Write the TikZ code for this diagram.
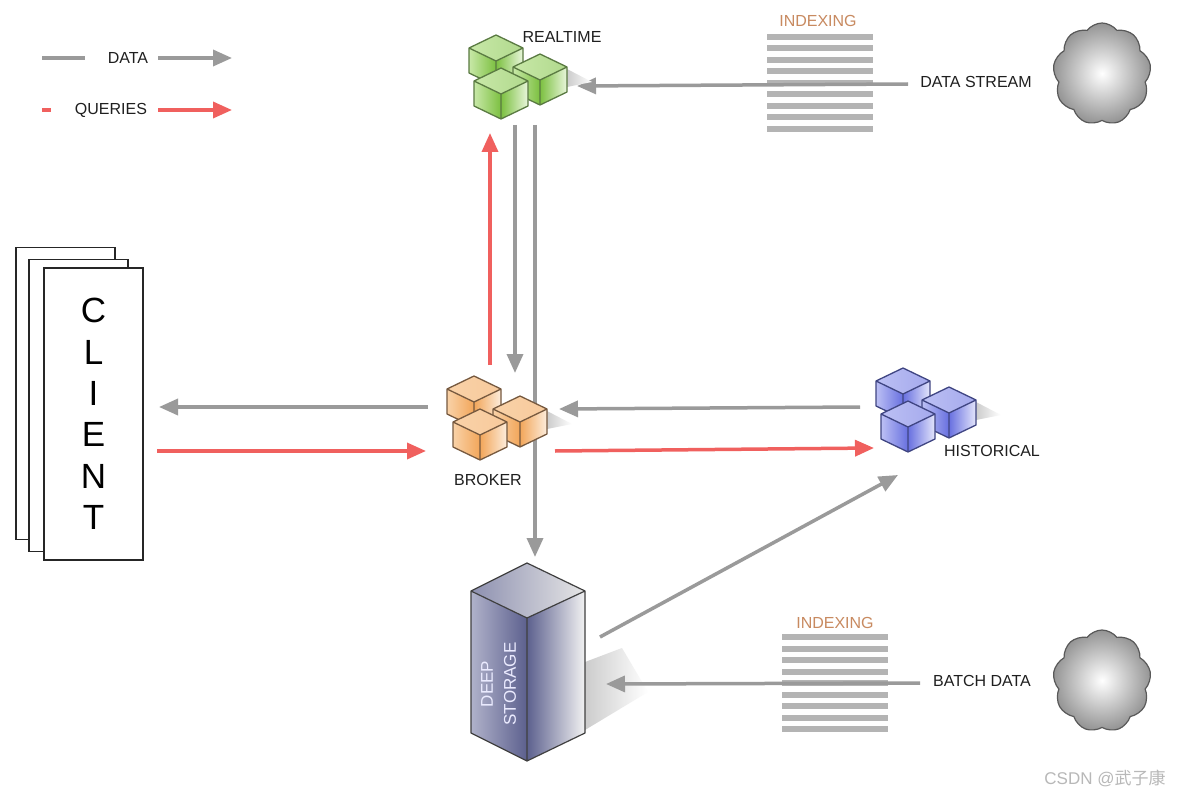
\documentclass[tikz,border=0pt]{standalone}
\usepackage{fontspec}
\setmainfont{Liberation Sans}
\newfontfamily\cjk{Noto Sans CJK SC}
\usetikzlibrary{arrows.meta,shapes.symbols}

\definecolor{arrgray}{HTML}{9A9A9A}
\definecolor{qred}{HTML}{F0605E}
\definecolor{stripe}{HTML}{B4B4B4}
\definecolor{idxcol}{HTML}{C88A60}
\definecolor{grlight}{HTML}{C8E8A8}\definecolor{grbase}{HTML}{7CC040}\definecolor{gredge}{HTML}{5A7A42}
\definecolor{orlight}{HTML}{F9D2A8}\definecolor{orbase}{HTML}{F2A65A}\definecolor{oredge}{HTML}{76593F}
\definecolor{bllight}{HTML}{BCC0F4}\definecolor{blbase}{HTML}{6870E0}\definecolor{bledge}{HTML}{3F4582}
\definecolor{dsdark}{HTML}{5C608E}\definecolor{dslight}{HTML}{B0B2CA}

\newcommand\cubeat[3]{%
  \shade[left color=#3light, right color=#3base!60!white] (#1-27,#2)--(#1,#2-13)--(#1+27,#2)--(#1,#2+13)--cycle;
  \shade[left color=#3light, right color=#3base] (#1-27,#2)--(#1,#2+13)--(#1,#2+38)--(#1-27,#2+25)--cycle;
  \shade[left color=#3base, right color=#3light!40!white] (#1,#2+13)--(#1+27,#2)--(#1+27,#2+25)--(#1,#2+38)--cycle;
  \draw[#3edge, line width=1.3pt, line join=round]
    (#1-27,#2)--(#1,#2-13)--(#1+27,#2)--(#1+27,#2+25)--(#1,#2+38)--(#1-27,#2+25)--cycle
    (#1-27,#2)--(#1,#2+13)--(#1+27,#2) (#1,#2+13)--(#1,#2+38);
}
\newcommand\cubeshadow[2]{%
  \shade[left color=black!20, right color=white] (#1+27,#2+2)--(#1+52,#2+15)--(#1+27,#2+20)--cycle;
}
\newcommand\stripes[3]{%
  \foreach \k in {0,...,8} {\draw[stripe, line width=6pt] (#1,#3+\k*11.5) -- (#2,#3+\k*11.5);}
}

\begin{document}
\begin{tikzpicture}[x=1pt,y=-1pt,
  lbl/.style={font=\fontsize{16}{18}\selectfont, text=black!88, inner sep=0pt},
  idx/.style={font=\fontsize{16}{18}\selectfont, text=idxcol, inner sep=0pt},
  dline/.style={draw=arrgray, line width=3.5pt},
  qline/.style={draw=qred, line width=3.5pt},
  darrow/.style={dline, -{Triangle[length=19pt,width=16pt]}},
  qarrow/.style={qline, -{Triangle[length=19pt,width=16pt]}},
  cloudnode/.style={cloud, cloud puffs=9, cloud puff arc=105, aspect=0.95,
     minimum width=98pt, minimum height=102pt, draw=black!65, line width=1.2pt,
     inner color=white, outer color=black!42},
  clientbox/.style={draw=black!85, fill=white, line width=1.2pt, minimum width=99pt, minimum height=292pt, inner sep=0pt}
]
\useasboundingbox (0,0) rectangle (1184,797);
\fill[white] (0,0) rectangle (1184,797);

% ---------- legend
\node[lbl] (ldata) at (128,58) {DATA};
\node[lbl] (lquer) at (111,110) {QUERIES};
\coordinate (ld1) at (42,58); \coordinate (ld2) at (85,58);
\coordinate (ld3) at (158,58); \coordinate (ld4) at (232,58);
\coordinate (lq1) at (42,110); \coordinate (lq2) at (51,110);
\coordinate (lq3) at (158,110); \coordinate (lq4) at (232,110);
\draw[dline] (ld1) -- (ld2);
\draw[darrow] (ld3) -- (ld4);
\draw[qline] (lq1) -- (lq2);
\draw[qarrow] (lq3) -- (lq4);

% ---------- client
\node[clientbox] (client3) at (65.5,393.5) {};
\node[clientbox] (client2) at (78.5,405.5) {};
\node[clientbox, align=center, font=\fontsize{35}{41.4}\selectfont] (client) at (93.5,414)
  {C\\L\\I\\E\\N\\T};

% ---------- top indexing
\node[idx] (idx1) at (818,21) {INDEXING};
\stripes{767}{873}{37}
\node[lbl] (dstream) at (976,82) {DATA STREAM};
\node[cloudnode] (cloud1) at (1102,74) {};
\coordinate (ds1) at (908,84); \coordinate (ds2) at (577,86);
\draw[darrow] (ds1) -- (ds2);

% ---------- bottom indexing
\node[idx] (idx2) at (835,623) {INDEXING};
\stripes{782}{888}{637}
\node[lbl] (batch) at (982,681) {BATCH DATA};
\node[cloudnode] (cloud2) at (1102,681) {};

% ---------- deep storage
\shade[left color=black!20, right color=white] (585,662) -- (622,648) -- (648,692) -- (585,730) -- cycle;
\shade[left color=dsdark!70, right color=black!10] (471,591)--(527,563)--(585,591)--(527,618)--cycle;
\shade[left color=dslight, right color=dsdark] (471,591)--(527,618)--(527,761)--(471,733)--cycle;
\shade[left color=dsdark, right color=black!5] (527,618)--(585,591)--(585,733)--(527,761)--cycle;
\draw[black!75, line width=1.2pt, line join=round]
  (471,591)--(527,563)--(585,591)--(585,733)--(527,761)--(471,733)--cycle
  (471,591)--(527,618)--(585,591) (527,618)--(527,761);
\node[rotate=90, align=center, text=white!92!blue, font=\fontsize{17}{23}\selectfont, inner sep=0pt] (deep) at (498.5,684) {DEEP\\STORAGE};

\coordinate (dsb1) at (920,683); \coordinate (dsb2) at (606,684);
\draw[darrow] (dsb1) -- (dsb2);
\coordinate (dh1) at (600,637); \coordinate (dh2) at (898,475);
\draw[darrow] (dh1) -- (dh2);

% ---------- vertical connectors
\coordinate (v1a) at (490,365); \coordinate (v1b) at (490,133);
\coordinate (v2a) at (515,125); \coordinate (v2b) at (515,373);
\coordinate (v3a) at (535,125); \coordinate (v3b) at (535,557);
\draw[darrow] (v3a) -- (v3b);
\draw[darrow] (v2a) -- (v2b);
\draw[qarrow] (v1a) -- (v1b);

% ---------- horizontal connectors
\coordinate (c1) at (428,407); \coordinate (c2) at (159,407);
\coordinate (c3) at (157,451); \coordinate (c4) at (426,451);
\draw[darrow] (c1) -- (c2);
\draw[qarrow] (c3) -- (c4);
\coordinate (h1) at (860,407); \coordinate (h2) at (559,409);
\coordinate (h3) at (555,451); \coordinate (h4) at (874,448);
\draw[darrow] (h1) -- (h2);
\draw[qarrow] (h3) -- (h4);

% ---------- cube clusters
\cubeshadow{540}{67}
\cubeat{496}{48}{gr}\cubeat{540}{67}{gr}\cubeat{501}{81}{gr}
\node[lbl] (realtime) at (562,37) {REALTIME};

\cubeshadow{520}{409}
\cubeat{474}{389}{or}\cubeat{520}{409}{or}\cubeat{480}{422}{or}
\node[lbl] (broker) at (488,480) {BROKER};

\cubeshadow{949}{400}
\cubeat{903}{381}{bl}\cubeat{949}{400}{bl}\cubeat{908}{414}{bl}
\node[lbl] (historical) at (992,451) {HISTORICAL};

% ---------- watermark
\node[text=black!28, font=\fontsize{17}{20}\selectfont, inner sep=0pt] (wm) at (1105,778) {CSDN @{\cjk 武子康}};
\end{tikzpicture}
\end{document}
